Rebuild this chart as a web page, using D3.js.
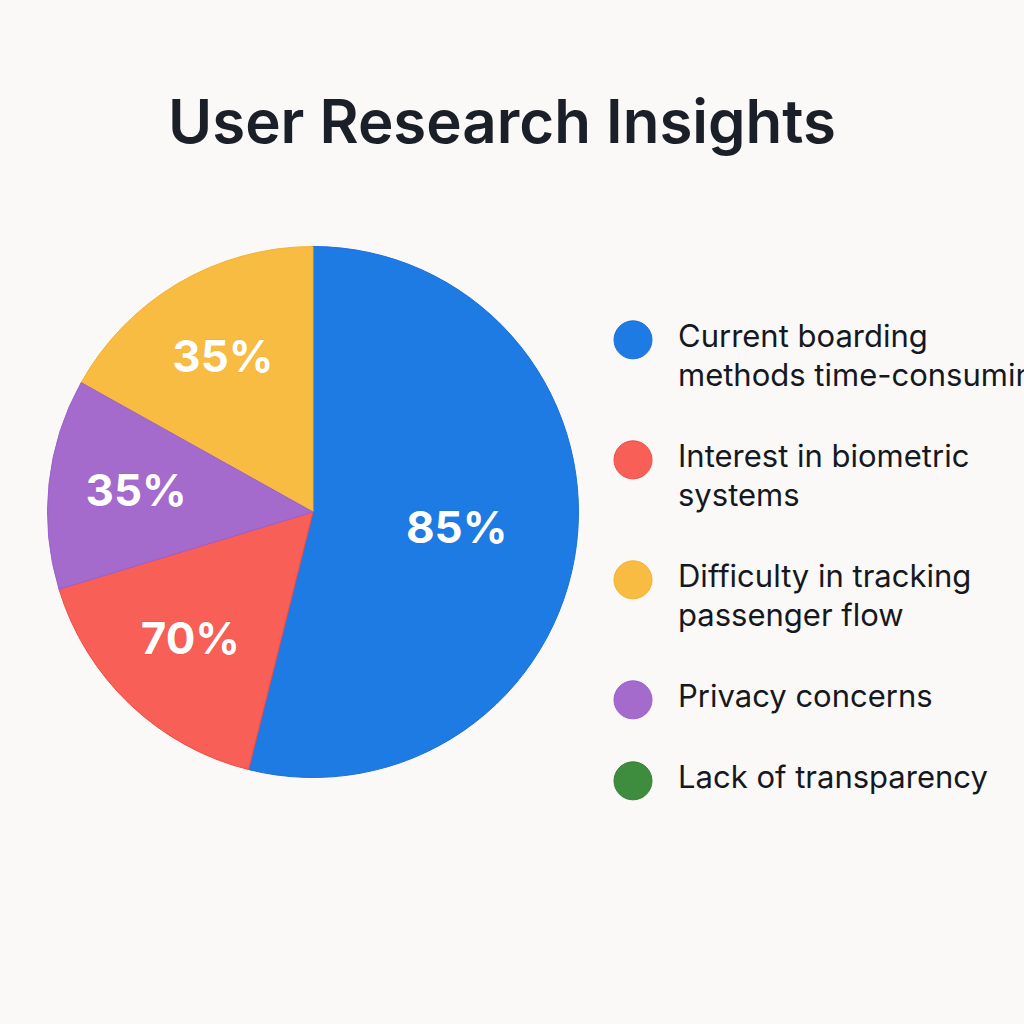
<!DOCTYPE html>
<html>
<head>
<meta charset="utf-8">
<script src="https://cdn.jsdelivr.net/npm/d3@7"></script>
<style>
  html, body { margin: 0; padding: 0; background: #FBF9F7; overflow: hidden; }
  svg { display: block; }
</style>
</head>
<body>
<svg id="chart" width="1024" height="1024"></svg>
<script>
// ---- data ----
const title = "User Research Insights";
const categories = [
  "Current boarding methods time-consuming",
  "Interest in biometric systems",
  "Difficulty in tracking passenger flow",
  "Privacy concerns",
  "Lack of transparency"
];
// legend lines as drawn (wrapped)
const legendLines = [
  ["Current boarding", "methods time-consuming"],
  ["Interest in biometric", "systems"],
  ["Difficulty in tracking", "passenger flow"],
  ["Privacy concerns"],
  ["Lack of transparency"]
];
// share of the circle each slice occupies (per category)
const sliceShares = [53.9, 16.4, 16.9, 12.8, 0];
// percentage labels printed on slices (per category)
const sliceLabels = ["85%", "70%", "35%", "35%", ""];
// clockwise order of the slices starting at 12 o'clock (category indices)
const sliceOrder = [0, 1, 3, 2, 4];
const colors = ["#1E7BE3", "#F85F57", "#F7BC41", "#A46BCC", "#3E8D3F"];
const strokeColors = ["#1A6FDA", "#F24A44", "#F3B22F", "#9A5FD0", "#357F36"];

// ---- layout ----
const W = 1024, H = 1024;
const cx = 313, cy = 512, R = 265.5;
const svg = d3.select("#chart");

svg.append("rect").attr("width", W).attr("height", H).attr("fill", "#FBF9F7");

// title
const t = svg.append("text")
  .attr("x", 502).attr("y", 143)
  .attr("text-anchor", "middle")
  .attr("font-family", "Inter, 'Noto Sans', sans-serif")
  .attr("font-weight", 600)
  .attr("font-size", 64)
  .attr("fill", "#1B1F27")
  .text(title);
const targetW = 668;
const tw = t.node().getComputedTextLength();
t.attr("font-size", 64 * targetW / tw);

// pie
const pie = d3.pie()
  .sort((a, b) => sliceOrder.indexOf(a.i) - sliceOrder.indexOf(b.i))
  .value(d => d.v)
  .startAngle(0).endAngle(2 * Math.PI);
const data = sliceShares.map((v, i) => ({ v, i }));
const arcs = pie(data).filter(a => a.data.v > 0);
const arc = d3.arc().innerRadius(0).outerRadius(R);

const g = svg.append("g").attr("transform", `translate(${cx},${cy})`);
g.selectAll("path.slice").data(arcs).join("path")
  .attr("class", "slice")
  .attr("d", arc)
  .attr("fill", d => colors[d.data.i])
  .attr("stroke", d => strokeColors[d.data.i])
  .attr("stroke-width", 1);

// labels
g.selectAll("text.lbl").data(arcs).join("text")
  .attr("class", "lbl")
  .attr("transform", d => {
    const span = d.endAngle - d.startAngle;
    const r = span > Math.PI ? R * 0.545 : R * 0.67;
    const a = (d.startAngle + d.endAngle) / 2;
    return `translate(${r * Math.sin(a)},${-r * Math.cos(a)})`;
  })
  .attr("text-anchor", "middle")
  .attr("dy", "0.3em")
  .attr("font-family", "Inter, 'Noto Sans', sans-serif")
  .attr("font-weight", 700)
  .attr("font-size", 44)
  .attr("fill", "#FFFFFF")
  .attr("stroke", d => strokeColors[d.data.i])
  .attr("stroke-width", 0.8)
  .attr("paint-order", "stroke")
  .text(d => sliceLabels[d.data.i]);

// legend
const legX = 633, textX = 678, lineH = 39, gap = 42, firstBaseline = 347;
const fontSize = 31;
let y = firstBaseline;
const lg = svg.append("g");
legendLines.forEach((lines, i) => {
  lg.append("circle")
    .attr("cx", legX)
    .attr("cy", y - fontSize * 0.36 + 4)
    .attr("r", 19)
    .attr("fill", colors[i])
    .attr("stroke", strokeColors[i])
    .attr("stroke-width", 1);
  const tx = lg.append("text")
    .attr("x", textX).attr("y", y)
    .attr("font-family", "Inter, 'Noto Sans', sans-serif")
    .attr("font-weight", 400)
    .attr("font-size", fontSize)
    .attr("fill", "#15181E");
  lines.forEach((ln, j) => {
    tx.append("tspan").attr("x", textX).attr("y", y + j * lineH).text(ln);
  });
  y += lines.length * lineH + gap;
});
</script>
</body>
</html>
